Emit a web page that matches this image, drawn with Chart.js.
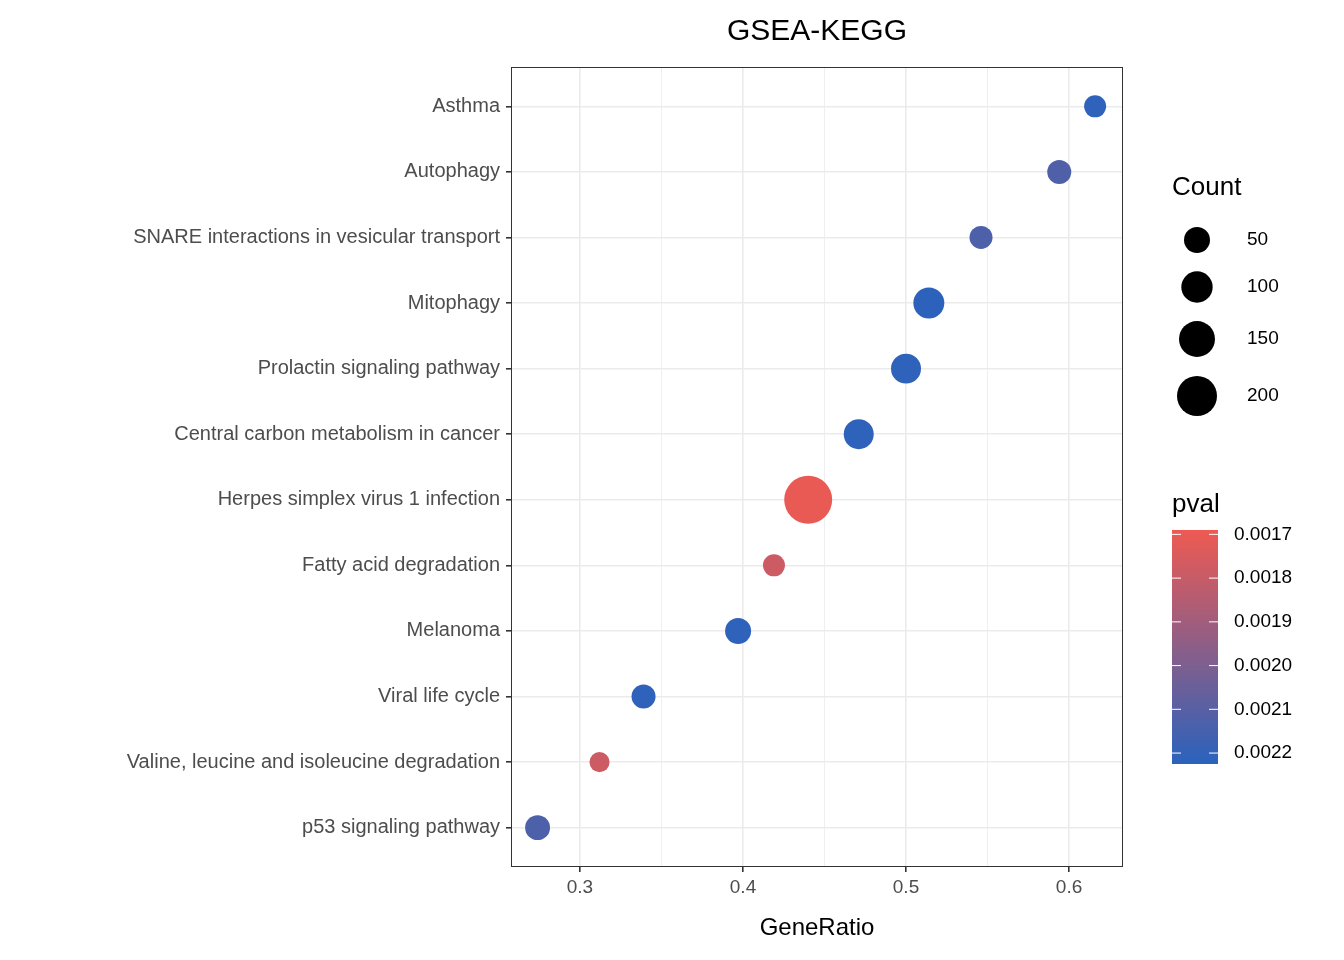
<!DOCTYPE html>
<html><head><meta charset="utf-8">
<script src="https://cdn.jsdelivr.net/npm/chart.js@4/dist/chart.umd.min.js"></script>
<style>body{margin:0;background:#fff}#wrap{width:1344px;height:960px}</style>
</head><body><div id="wrap"><canvas id="c"></canvas></div>
<script>
const categories = ['Asthma','Autophagy','SNARE interactions in vesicular transport','Mitophagy','Prolactin signaling pathway','Central carbon metabolism in cancer','Herpes simplex virus 1 infection','Fatty acid degradation','Melanoma','Viral life cycle','Valine, leucine and isoleucine degradation','p53 signaling pathway'];
const geneRatio = [0.616,0.594,0.546,0.514,0.500,0.471,0.440,0.419,0.397,0.339,0.312,0.274];
const counts = [19,34,26,96,86,86,314,19,50,34,6,41];
const pvals = [0.00221,0.00212,0.00213,0.00222,0.00221,0.00221,0.00170,0.00178,0.00221,0.00221,0.00178,0.00213];
const sizeBreaks = [50,100,150,200];
const pvalBreaks = [0.0017,0.0018,0.0019,0.0020,0.0021,0.0022];
const xTicks = [0.3,0.35,0.4,0.45,0.5,0.55,0.6];

const pMin = 0.00169, pMax = 0.002225;
const red = [238,90,82], blue = [42,98,189];
const FF = '"Liberation Sans", Arial, sans-serif';
function col(p){
  const t = Math.min(1,Math.max(0,(p-pMin)/(pMax-pMin)));
  const c = red.map((r,i)=>Math.round(r+(blue[i]-r)*t));
  return `rgb(${c[0]},${c[1]},${c[2]})`;
}
function rad(n){ return Math.sqrt(92+1.54*n); }

const pts = geneRatio.map((x,i)=>({x:x,y:i+1}));

const decor = {
  id:'decor',
  afterDraw(chart){
    const {ctx, chartArea:a} = chart;
    ctx.save();
    ctx.strokeStyle='#333'; ctx.lineWidth=1;
    ctx.strokeRect(a.left+0.5,a.top+0.5,a.right-a.left-1,a.bottom-a.top-1);
    ctx.fillStyle='#000'; ctx.textAlign='center'; ctx.textBaseline='middle';
    ctx.font='30px '+FF;
    ctx.fillText('GSEA-KEGG',(a.left+a.right)/2,32);
    ctx.font='24px '+FF;
    ctx.fillText('GeneRatio',(a.left+a.right)/2,928);
    // Count legend
    ctx.textAlign='left';
    ctx.font='26px '+FF;
    ctx.fillText('Count',1172,188);
    ctx.font='19px '+FF;
    const ly=[240,287,339,396];
    sizeBreaks.forEach((b,i)=>{
      ctx.beginPath(); ctx.fillStyle='#000';
      ctx.arc(1197,ly[i],rad(b),0,Math.PI*2); ctx.fill();
      ctx.fillText(String(b),1247,ly[i]);
    });
    // pval colorbar
    ctx.font='26px '+FF;
    ctx.fillText('pval',1172,505);
    const top=530,bot=764,x0=1172,w=46;
    const yOf=p=>top+(p-pMin)/(pMax-pMin)*(bot-top);
    for(let y=top;y<bot;y++){
      const p=pMin+(y-top)/(bot-top)*(pMax-pMin);
      ctx.fillStyle=col(p); ctx.fillRect(x0,y,w,1);
    }
    ctx.font='19px '+FF;
    pvalBreaks.forEach(p=>{
      const y=yOf(p);
      ctx.strokeStyle='#fff'; ctx.lineWidth=1;
      ctx.beginPath(); ctx.moveTo(x0,y); ctx.lineTo(x0+9,y); ctx.moveTo(x0+w-9,y); ctx.lineTo(x0+w,y); ctx.stroke();
      ctx.fillStyle='#000'; ctx.fillText(p.toFixed(4),1234,y);
    });
    ctx.restore();
  }
};

new Chart(document.getElementById('c'),{
  type:'scatter',
  data:{datasets:[{data:pts,
    backgroundColor:pvals.map(col),borderWidth:0,
    pointRadius:counts.map(rad),pointHoverRadius:counts.map(rad)}]},
  options:{
    responsive:true,maintainAspectRatio:false,animation:false,
    layout:{padding:{top:67,right:221,left:0,bottom:0}},
    plugins:{legend:{display:false},tooltip:{enabled:false}},
    scales:{
      x:{type:'linear',min:0.2577,max:0.6331,
        afterBuildTicks:s=>{s.ticks=xTicks.map(v=>({value:v}));},
        afterFit:s=>{s.height=93;},
        border:{display:false},
        grid:{color:'#ebebeb',lineWidth:c=>(Math.round(c.tick.value*100)%10===0?1.6:0.8),tickLength:5,tickColor:c=>(Math.round(c.tick.value*100)%10===0?'#333':'rgba(0,0,0,0)')},
        ticks:{color:'#4d4d4d',font:{size:19,family:FF},padding:4,maxRotation:0,
          callback:v=>(Math.round(v*100)%10===0?v.toFixed(1):'')}},
      y:{type:'linear',min:0.4,max:12.6,reverse:true,
        afterBuildTicks:s=>{s.ticks=categories.map((c,i)=>({value:i+1}));},
        afterFit:s=>{s.width=511;},
        border:{display:false},
        grid:{color:'#ebebeb',lineWidth:1.6,tickLength:5,tickColor:'#333'},
        ticks:{color:'#4d4d4d',font:{size:20,family:FF},padding:6,
          callback:v=>categories[v-1]}}
    }
  },
  plugins:[decor]
});
</script></body></html>
